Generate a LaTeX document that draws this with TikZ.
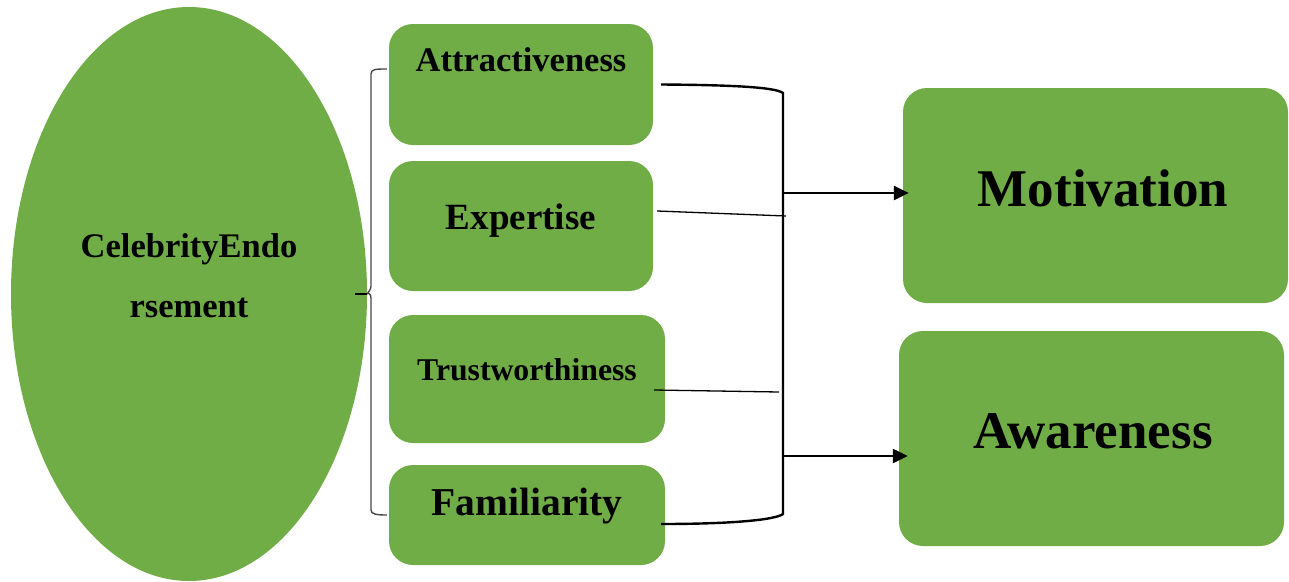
\documentclass[tikz,border=0pt]{standalone}
\usepackage{fontspec}
\setmainfont{Liberation Serif}
\usetikzlibrary{arrows.meta,shapes.geometric}
\definecolor{boxgreen}{HTML}{70AD47}
\begin{document}
\begin{tikzpicture}[x=1pt,y=-1pt,
  blob/.style={fill=boxgreen, draw=none, rounded corners=24pt, inner sep=0pt, rectangle},
  lbl/.style={anchor=base, inner sep=0pt},
  bar/.style={line width=2.4pt, black},
  thinline/.style={line width=1.3pt, black},
  bracestroke/.style={line width=1.4pt, draw=black!72},
  arr/.style={bar, -{Triangle[length=15pt,width=14pt]}}]
\useasboundingbox (0,0) rectangle (1289,581);

% central construct
\node[ellipse, fill=boxgreen, draw=none, minimum width=356pt, minimum height=574pt, inner sep=0pt] (ce) at (189,294) {};
\node[lbl, font=\fontsize{34.5}{40}\selectfont\bfseries] (ce1) at (189,257) {CelebrityEndo};
\node[lbl, font=\fontsize{34.5}{40}\selectfont\bfseries] (ce2) at (189,317) {rsement};

% dimensions
\node[blob, minimum width=264pt, minimum height=121pt] (attr) at (521,84.5) {};
\node[blob, minimum width=264pt, minimum height=130pt] (expt) at (521,226) {};
\node[blob, minimum width=276pt, minimum height=128pt] (trust) at (527,379) {};
\node[blob, minimum width=276pt, minimum height=100pt] (fam) at (527,515) {};
\node[lbl, font=\fontsize{34.5}{40}\selectfont\bfseries] (attrt) at (521,71) {Attractiveness};
\node[lbl, font=\fontsize{37}{42}\selectfont\bfseries] (exptt) at (521,229) {Expertise};
\node[lbl, font=\fontsize{31.7}{36}\selectfont\bfseries] (trustt) at (527,380) {Trustworthiness};
\node[lbl, font=\fontsize{39.5}{44}\selectfont\bfseries] (famt) at (527,515) {Familiarity};

% outcomes
\node[blob, minimum width=385pt, minimum height=215pt] (motiv) at (1095.5,195.5) {};
\node[blob, minimum width=385pt, minimum height=215pt] (aware) at (1091.5,438.5) {};
\node[lbl, font=\fontsize{53}{60}\selectfont\bfseries] (motivt) at (1103,206) {Motivation};
\node[lbl, font=\fontsize{53}{60}\selectfont\bfseries] (awaret) at (1093,448) {Awareness};

% brace grouping the dimensions
\draw[bracestroke] ([shift={(-2,-15.5)}]attr.west) .. controls (376,69) and (371,69) .. (371,74)
  -- (371,286) .. controls (371,290) and (368,292) .. (ce.east)
  (ce.east) .. controls (368,292) and (371,294) .. (371,298)
  -- (371,510) .. controls (371,514) and (376,515) .. ([shift={(-2,0)}]fam.west);
\draw[line width=1.6pt, black] ([xshift=-12pt]ce.east) -- (ce.east);

% trunk collecting the dimensions
\coordinate (jt) at (783,93);
\coordinate (jb) at (783,514);
\coordinate (jm) at (783,193);
\coordinate (ja) at (783,456);
\draw[bar] ([xshift=8pt]attr.east) .. controls (730,85) and (775,87) .. (jt) -- (jb)
  .. controls (775,520) and (730,524) .. ([shift={(-4,9)}]fam.east);
\draw[thinline] ([shift={(4,-15)}]expt.east) -- ([shift={(3,-10)}]jm |- expt.east);
\draw[thinline] ([shift={(-11,11)}]trust.east) -- ([shift={(-4,13)}]jm |- trust.east);

% arrows to the outcomes
\draw[arr] (jm) -- ([xshift=6pt]motiv.west |- jm);
\draw[arr] (ja) -- ([xshift=9pt]aware.west |- ja);
\end{tikzpicture}
\end{document}
